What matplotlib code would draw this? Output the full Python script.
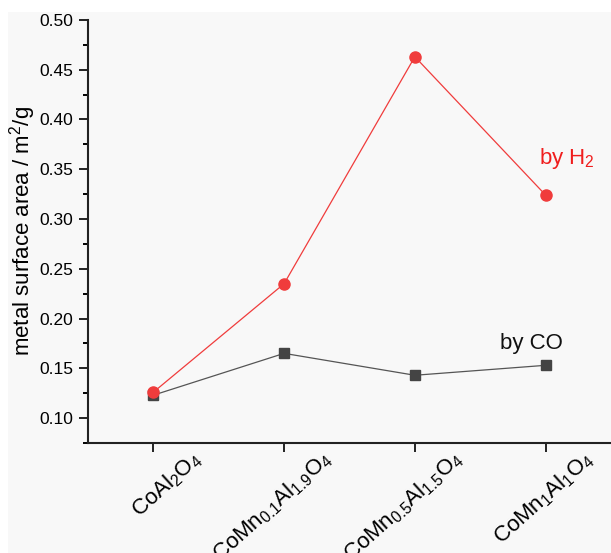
import matplotlib
matplotlib.use("Agg")
import matplotlib.pyplot as plt
from matplotlib.ticker import MultipleLocator
from matplotlib.patches import Rectangle
from matplotlib.transforms import ScaledTranslation

plt.rcParams['font.family'] = ['Liberation Sans', 'DejaVu Sans']
plt.rcParams['mathtext.fontset'] = 'custom'
plt.rcParams['mathtext.rm'] = 'Liberation Sans'
plt.rcParams['mathtext.it'] = 'Liberation Sans'
plt.rcParams['mathtext.default'] = 'regular'

categories = ['CoAl$_2$O$_4$', 'CoMn$_{0.1}$Al$_{1.9}$O$_4$',
              'CoMn$_{0.5}$Al$_{1.5}$O$_4$', 'CoMn$_1$Al$_1$O$_4$']
h2_values = [0.126, 0.235, 0.463, 0.324]
co_values = [0.123, 0.165, 0.143, 0.153]
yticks = [0.10, 0.15, 0.20, 0.25, 0.30, 0.35, 0.40, 0.45, 0.50]

fig = plt.figure(figsize=(6.11, 5.53), dpi=100, facecolor='white')
fig.patches.append(Rectangle((0.013, 0.0), 0.987, 0.978, transform=fig.transFigure,
                             facecolor='#f8f8f8', edgecolor='none', zorder=-10))
ax = fig.add_axes([0.144, 0.199, 0.856, 0.765])
ax.set_facecolor('none')
x = list(range(len(categories)))
ax.plot(x, co_values, '-s', color='#555555', mfc='#444444', mec='#444444',
        lw=0.9, ms=6.5)
ax.plot(x, h2_values, '-o', color='#f03c3c', mfc='#f03c3c', mec='#f03c3c',
        lw=0.9, ms=8)

ax.set_xlim(-0.5, 3.5)
ax.set_ylim(0.075, 0.50)
ax.yaxis.set_minor_locator(MultipleLocator(0.025))
ax.set_yticks(yticks)
ax.set_yticklabels(['%.2f' % v for v in yticks])
ax.set_xticks(x)
ax.set_xticklabels(categories, rotation=42, ha='right', va='top', rotation_mode='anchor')
ax.tick_params(axis='both', direction='out', width=1.4, length=6.5, color='#222222')
ax.tick_params(axis='y', labelsize=12.5, pad=4)
ax.tick_params(axis='y', which='minor', direction='out', width=1.4, length=3.6)
ax.tick_params(axis='x', labelsize=16, pad=0)
offset = ScaledTranslation(37 / 100, 5 / 100, fig.dpi_scale_trans)
for lab in ax.get_xticklabels():
    lab.set_transform(lab.get_transform() + offset)
for s in ['top', 'right']:
    ax.spines[s].set_visible(False)
for s in ['left', 'bottom']:
    ax.spines[s].set_linewidth(1.5)
    ax.spines[s].set_color('#222222')

ax.set_ylabel('metal surface area / m$^2$/g', fontsize=16, labelpad=1)
ax.text(3.16, 0.361, 'by H$_2$', color='#f01e1e', fontsize=16, ha='center', va='center')
ax.text(2.89, 0.175, 'by CO', color='#111111', fontsize=16, ha='center', va='center')

fig.savefig('out.png', dpi=100, facecolor=fig.get_facecolor())
